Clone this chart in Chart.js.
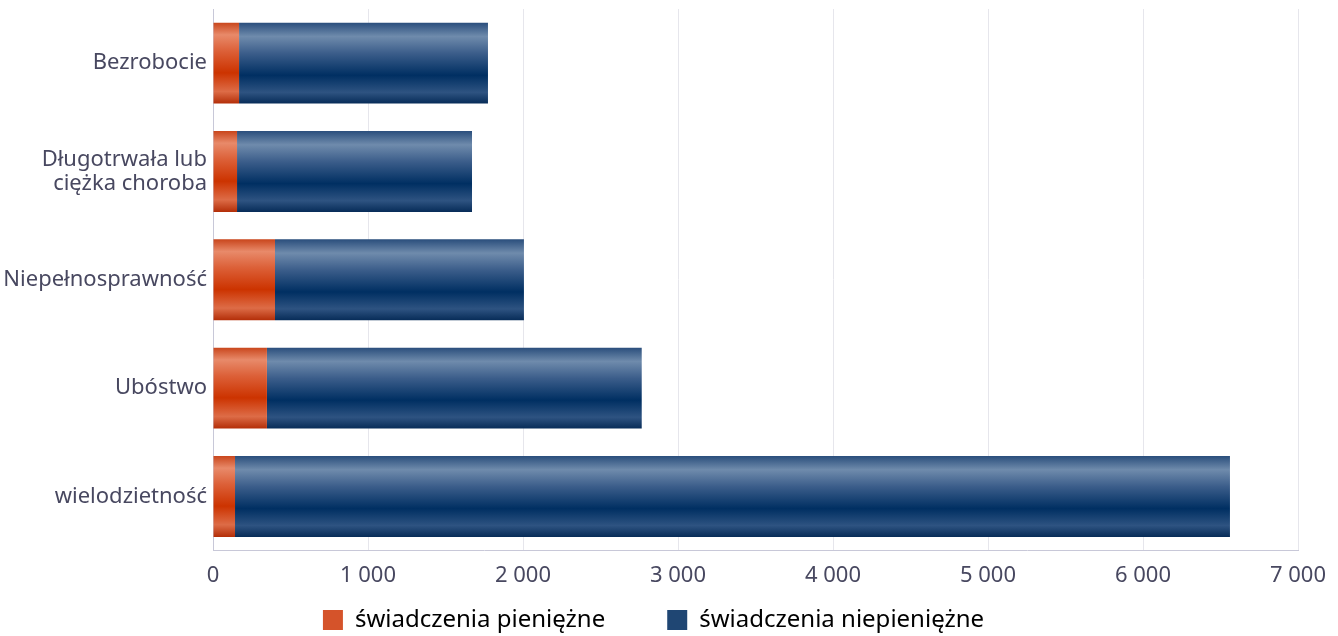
<!DOCTYPE html>
<html>
<head>
<meta charset="utf-8">
<script src="https://cdn.jsdelivr.net/npm/chart.js@4/dist/chart.umd.min.js"></script>
<style>
html,body{margin:0;padding:0;background:#fff;}
#wrap{width:1338px;height:636px;position:relative;}
</style>
</head>
<body>
<div id="wrap"><canvas id="c"></canvas></div>
<script>
const categories = ["Bezrobocie", ["Długotrwała lub", "ciężka choroba"], "Niepełnosprawność", "Ubóstwo", "wielodzietność"];
const seriesNames = ["świadczenia pieniężne", "świadczenia niepieniężne"];
const cashValues = [168, 155, 400, 348, 142];
const nonCashValues = [1606, 1516, 1606, 2418, 6419];
const xTicks = [0, 1000, 2000, 3000, 4000, 5000, 6000, 7000];

const orangeStops = [[0,'#c9461c'],[0.15,'#e88a6a'],[0.35,'#dc6038'],[0.62,'#cc3300'],[0.85,'#dd6c47'],[1,'#b32e08']];
const blueStops = [[0,'#2a4e7c'],[0.17,'#6f8bac'],[0.38,'#3b5d8a'],[0.65,'#002f62'],[0.86,'#2e5381'],[1,'#072c58']];
const BAR_PCT = 0.747;
const LEGEND_PAD = 62;
const LEGEND_ITEM_TOP = 608;

function barGradient(ctx, stops, fallback){
  const chart = ctx.chart;
  const area = chart.chartArea;
  const y = chart.scales.y;
  if(!area || !y || ctx.dataIndex === undefined) return fallback;
  const center = y.getPixelForValue(ctx.dataIndex);
  const cat = (area.bottom - area.top) / categories.length;
  const h = cat * BAR_PCT;
  const g = chart.ctx.createLinearGradient(0, center - h/2, 0, center + h/2);
  stops.forEach(s => g.addColorStop(s[0], s[1]));
  return g;
}

function fmt(v){ return String(v).replace(/\B(?=(\d{3})+(?!\d))/g, ' '); }

const FONT = "'Noto Sans', 'Open Sans', sans-serif";
const AXIS_COLOR = '#c8c8d8';
const LABEL_COLOR = '#484860';

// shifts the legend row up so a wide item gap does not force a tall legend offset
const legendShift = {
  id: 'legendShift',
  beforeDraw(chart){
    const lg = chart.legend;
    if(!lg || lg._shiftPatched) return;
    const orig = lg.draw.bind(lg);
    lg.draw = function(area){
      const dy = LEGEND_ITEM_TOP - (this.top + LEGEND_PAD);
      const c = this.ctx;
      c.save();
      c.translate(0, dy);
      orig(area);
      c.restore();
    };
    lg._shiftPatched = true;
  }
};

new Chart(document.getElementById('c'), {
  type: 'bar',
  data: {
    labels: categories,
    datasets: [
      { label: seriesNames[0], data: cashValues, backgroundColor: c => barGradient(c, orangeStops, '#cc3300'), borderWidth: 0 },
      { label: seriesNames[1], data: nonCashValues, backgroundColor: c => barGradient(c, blueStops, '#003366'), borderWidth: 0 }
    ]
  },
  plugins: [legendShift],
  options: {
    indexAxis: 'y',
    responsive: true,
    maintainAspectRatio: false,
    animation: false,
    barPercentage: BAR_PCT,
    categoryPercentage: 1,
    layout: { padding: { top: 9, right: 31, left: 0, bottom: -61 } },
    scales: {
      x: {
        stacked: true,
        min: 0, max: 7000,
        afterBuildTicks: s => { s.ticks = xTicks.map(v => ({value: v})); },
        afterFit: s => { s.paddingRight = 40; s.paddingLeft = 0; },
        grid: { color: '#e6e6ec', lineWidth: 1, drawTicks: false },
        border: { display: true, color: AXIS_COLOR, width: 1 },
        ticks: { padding: 12, autoSkip: false, color: LABEL_COLOR, font: { family: FONT, size: 22 }, callback: v => fmt(v), maxRotation: 0 }
      },
      y: {
        stacked: true,
        afterFit: s => { s.width = 213; s.paddingTop = 0; s.paddingBottom = 0; },
        grid: { display: false, drawTicks: false },
        border: { display: true, color: AXIS_COLOR, width: 1 },
        ticks: { padding: 6, color: LABEL_COLOR, font: { family: FONT, size: 22, lineHeight: 1.1 } }
      }
    },
    plugins: {
      legend: {
        position: 'bottom',
        labels: {
          boxWidth: 20, boxHeight: 20, padding: LEGEND_PAD,
          color: '#222', font: { family: FONT, size: 24 },
          generateLabels: chart => seriesNames.map((n, i) => ({
            text: n, fillStyle: i === 0 ? '#d5532a' : '#1f4673', strokeStyle: 'transparent', lineWidth: 0, datasetIndex: i, hidden: false
          }))
        }
      },
      tooltip: { enabled: false }
    }
  }
});
</script>
</body>
</html>
